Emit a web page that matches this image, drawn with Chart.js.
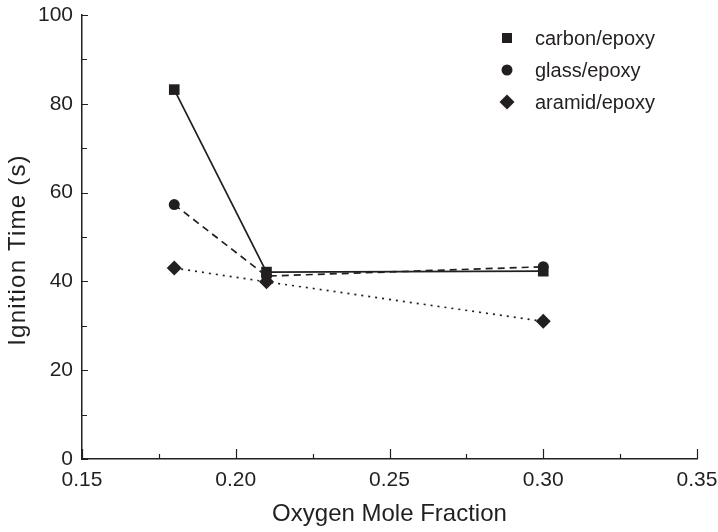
<!DOCTYPE html>
<html>
<head>
<meta charset="utf-8">
<script src="https://cdn.jsdelivr.net/npm/chart.js@4/dist/chart.umd.min.js"></script>
<style>
html,body{margin:0;padding:0;background:#fff;}
#wrap{width:718px;height:532px;}
</style>
</head>
<body>
<div id="wrap"><canvas id="c" width="718" height="532"></canvas></div>
<script>
const oxygen = [0.18, 0.21, 0.30];
const carbonEpoxy = [83.2, 42.1, 42.3];
const glassEpoxy = [57.3, 41.2, 43.3];
const aramidEpoxy = [43.0, 39.9, 31.0];
const seriesNames = ['carbon/epoxy', 'glass/epoxy', 'aramid/epoxy'];
const xTicks = [0.15, 0.20, 0.25, 0.30, 0.35];
const xMinorTicks = [0.175, 0.225, 0.275, 0.325];
const yTicks = [0, 20, 40, 60, 80, 100];
const yMinorTicks = [10, 30, 50, 70, 90];
const xTitle = 'Oxygen Mole Fraction';
const yTitle = 'Ignition Time (s)';

const INK = '#231f20';
const FONT = "'Liberation Sans', Arial, sans-serif";

function pts(ys){ return oxygen.map((x,i)=>({x:x,y:ys[i]})); }

const tickPlugin = {
  id:'inwardTicks',
  afterDraw(chart){
    const ctx = chart.ctx, xs = chart.scales.x, ys = chart.scales.y;
    const a = chart.chartArea;
    ctx.save();
    ctx.strokeStyle = INK; ctx.lineWidth = 1.2;
    ctx.beginPath();
    xTicks.forEach(v=>{const p=Math.round(xs.getPixelForValue(v))+0.5; ctx.moveTo(p,a.bottom); ctx.lineTo(p,a.bottom-10);});
    xMinorTicks.forEach(v=>{const p=Math.round(xs.getPixelForValue(v))+0.5; ctx.moveTo(p,a.bottom); ctx.lineTo(p,a.bottom-5);});
    yTicks.forEach(v=>{const p=Math.round(ys.getPixelForValue(v))+0.5; ctx.moveTo(a.left,p); ctx.lineTo(a.left+6,p);});
    yMinorTicks.forEach(v=>{const p=Math.round(ys.getPixelForValue(v))+0.5; ctx.moveTo(a.left,p); ctx.lineTo(a.left+5,p);});
    ctx.stroke();
    // y axis title
    ctx.save();
    ctx.translate(18, 250);
    ctx.rotate(-Math.PI/2);
    ctx.fillStyle = INK;
    ctx.font = '24px ' + FONT;
    ctx.letterSpacing = '1.2px';
    ctx.textAlign = 'center';
    ctx.textBaseline = 'middle';
    ctx.fillText(yTitle, 0, 0);
    ctx.restore();
    // legend
    const lx = 507, ly0 = 38, dy = 32;
    chart.data.datasets.forEach((ds,i)=>{
      const y = ly0 + i*dy;
      ctx.fillStyle = INK;
      ctx.beginPath();
      if (ds.pointStyle === 'rect'){ const s = 5; ctx.rect(lx-s,y-s,2*s,2*s); }
      else if (ds.pointStyle === 'circle'){ ctx.arc(lx,y,5.5,0,Math.PI*2); }
      else { const d = 7.5; ctx.moveTo(lx-d,y); ctx.lineTo(lx,y-d); ctx.lineTo(lx+d,y); ctx.lineTo(lx,y+d); ctx.closePath(); }
      ctx.fill();
      ctx.font = '20px ' + FONT;
      ctx.textBaseline = 'middle';
      ctx.textAlign = 'left';
      ctx.fillText(ds.label, 535, y+1);
    });
    ctx.restore();
  }
};

new Chart(document.getElementById('c'), {
  type:'line',
  data:{
    datasets:[
      {label:seriesNames[0], data:pts(carbonEpoxy), borderColor:INK, backgroundColor:INK, borderWidth:1.7,
       pointStyle:'rect', pointRadius:7.5, pointBorderWidth:0},
      {label:seriesNames[1], data:pts(glassEpoxy), borderColor:INK, backgroundColor:INK, borderWidth:1.7,
       borderDash:[7,5], pointStyle:'circle', pointRadius:5.5, pointBorderWidth:0},
      {label:seriesNames[2], data:pts(aramidEpoxy), borderColor:INK, backgroundColor:INK, borderWidth:1.7,
       borderDash:[2,5], pointStyle:'rectRot', pointRadius:7.5, pointBorderWidth:0}
    ]
  },
  options:{
    responsive:false,
    animation:false,
    layout:{padding:{top:15,right:21,left:0,bottom:0}},
    plugins:{legend:{display:false}, tooltip:{enabled:false}},
    scales:{
      x:{
        type:'linear', min:0.15, max:0.35,
        afterBuildTicks(s){ s.ticks = xTicks.map(v=>({value:v})); },
        afterFit(s){ s.height = 73; s.paddingLeft = 0; s.paddingRight = 0; },
        grid:{display:false, drawTicks:false},
        border:{display:true, color:INK, width:1.5},
        ticks:{color:INK, font:{family:FONT, size:21}, padding:9, maxRotation:0, autoSkip:false,
          callback:(v)=>Number(v).toFixed(2)},
        title:{display:true, text:xTitle, color:INK, font:{family:FONT, size:24}, padding:{top:4,bottom:3}}
      },
      y:{
        type:'linear', min:0, max:100,
        afterBuildTicks(s){ s.ticks = yTicks.map(v=>({value:v})); },
        afterFit(s){ s.width = 82; s.paddingTop = 0; s.paddingBottom = 0; },
        grid:{display:false, drawTicks:false},
        border:{display:true, color:INK, width:1.5},
        ticks:{color:INK, font:{family:FONT, size:21}, padding:9, autoSkip:false},
        title:{display:false}
      }
    }
  },
  plugins:[tickPlugin]
});
</script>
</body>
</html>
